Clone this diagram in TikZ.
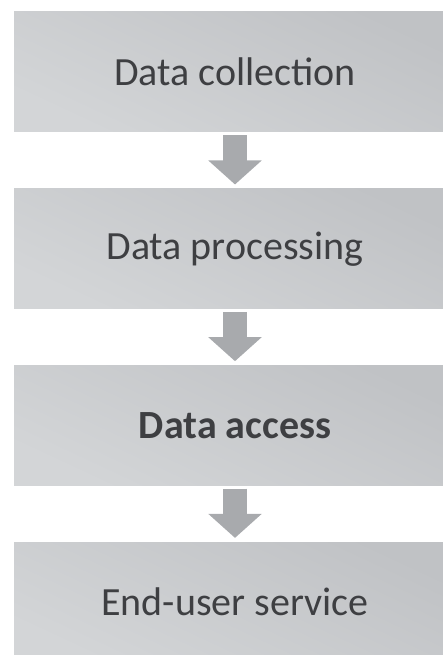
\documentclass[tikz,border=0pt]{standalone}
\usepackage{fontspec}
\setmainfont{Carlito}
\usepackage{tikz}
\usetikzlibrary{positioning}
\usetikzlibrary{calc}
\usetikzlibrary{arrows.meta}
\definecolor{boxdark}{HTML}{C0C2C5}
\definecolor{boxlight}{HTML}{D3D5D7}
\definecolor{arrowgray}{HTML}{A8AAAD}
\definecolor{textgray}{HTML}{3E3F42}
\tikzset{stage/.style={minimum width=442pt,minimum height=120pt,inner sep=0pt,left color=boxdark,right color=boxlight,shading angle=-25,text=textgray,font=\fontsize{40}{45}\selectfont},
flow/.style={draw=arrowgray,line width=24pt,-{Triangle[width=52pt,length=24pt,fill=arrowgray]}}}
\begin{document}
\begin{tikzpicture}[x=1pt,y=1pt]
\useasboundingbox (0,0) rectangle (443,-655);
\clip (0,0) rectangle (443,-655);
\foreach \i/\txt in {1/{Data collection},2/{Data processing},3/{\textbf{Data access}},4/{End-user service}} {
\node (b\i) at (235,{-72-176.7*(\i-1)}) [stage] {\txt};
}
\foreach \i/\j in {1/2,2/3,3/4} {
\draw[flow] ([yshift=-3pt]b\i.south) -- ([yshift=4pt]b\j.north);
}
\end{tikzpicture}
\end{document}
